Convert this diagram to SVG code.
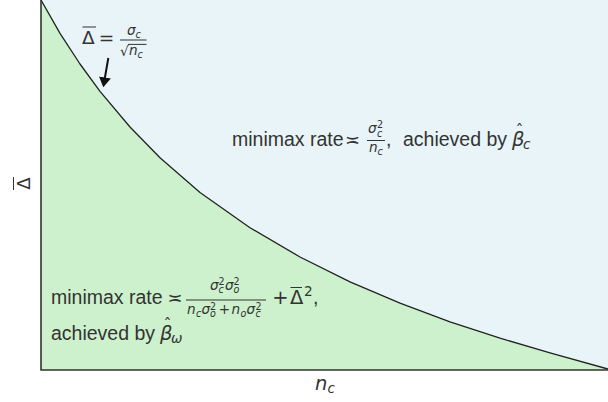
<svg xmlns="http://www.w3.org/2000/svg" width="608" height="402" viewBox="0 0 608 402">
<defs>
<style>
.t{font-family:"Liberation Sans",Arial,sans-serif;font-size:19.5px;fill:#333}
.m{font-family:"DejaVu Sans",sans-serif;fill:#333}
.i{font-style:italic}
.f{font-size:13.6px}
.s{font-size:9.6px}
.L{font-size:19.5px}
.rule{stroke:#333;stroke-width:1}
.axis{stroke:#333;stroke-width:1.6;fill:none}
</style>
<marker id="ah" markerUnits="userSpaceOnUse" markerWidth="12" markerHeight="14" refX="2.1" refY="6" orient="auto">
<path d="M0,0 L10,6 L0,12 Z" fill="#111"/>
</marker>
</defs>
<rect x="0" y="0" width="608" height="402" fill="#ffffff"/>
<g id="regions">
<rect id="upper-region" x="41" y="0" width="567" height="370" fill="#E8F4F7"/>
<path id="lower-region" d="M41,0 L60,33.4 L80,64 L100,91.3 L130,127 L160,157.8 L200,192.5 L250,227.7 L300,257 L350,281.9 L400,303.1 L450,321.8 L500,338.1 L550,352.9 L608,369 L608,370 L41,370 Z" fill="#CCF1CC"/>
</g>
<g id="connectors">
<polyline id="boundary" points="41,0 60,33.4 80,64 100,91.3 130,127 160,157.8 200,192.5 250,227.7 300,257 350,281.9 400,303.1 450,321.8 500,338.1 550,352.9 608,369" fill="none" stroke="#222" stroke-width="1.3" stroke-linejoin="round"/>
<line id="arrow" x1="108.3" y1="58" x2="104.6" y2="79.5" stroke="#111" stroke-width="2" marker-end="url(#ah)"/>
<polyline id="axes" class="axis" points="41,0 41,370 608,370"/>
</g>
<g id="label-delta-bar">
<text class="m" x="82" y="43.5" font-size="18.5">Δ</text>
<line class="rule" x1="82.5" y1="27" x2="96" y2="27" stroke-width="1.4"/>
<text class="m" x="106.5" y="43.5" font-size="18.5" text-anchor="middle">=</text>
<line class="rule" x1="120" y1="40" x2="146.5" y2="40"/>
<text class="m i f" x="127" y="35">σ</text>
<text class="m i s" x="135.5" y="38">c</text>
<text class="m f" x="120" y="56">√</text>
<line class="rule" x1="128" y1="44.4" x2="146.5" y2="44.4" stroke-width="0.9"/>
<text class="m i f" x="129" y="55">n</text>
<text class="m i s" x="137.5" y="57.5">c</text>
</g>
<g id="label-upper">
<text class="t" x="232" y="146">minimax rate</text>
<text class="m" x="352.5" y="146" font-size="18" text-anchor="middle">≍</text>
<text class="m i f" x="368" y="133">σ</text>
<text class="m s" x="377" y="128">2</text>
<text class="m i s" x="377" y="137">c</text>
<line class="rule" x1="367" y1="140.5" x2="385" y2="140.5"/>
<text class="m i f" x="369" y="152">n</text>
<text class="m i s" x="377.5" y="154.5">c</text>
<text class="t" x="386" y="146">,</text>
<text class="t" x="403" y="146">achieved by</text>
<text class="m i L" x="512" y="146">β</text>
<text class="m" x="519.5" y="136" font-size="16" text-anchor="middle">ˆ</text>
<text class="m i f" x="523" y="149">c</text>
</g>
<g id="label-lower">
<text class="t" x="51" y="304">minimax rate</text>
<text class="m" x="175" y="304" font-size="18" text-anchor="middle">≍</text>
<text class="m i f" x="210" y="290">σ</text>
<text class="m s" x="218.5" y="285">2</text>
<text class="m i s" x="218.5" y="292.5">c</text>
<text class="m i f" x="225" y="290">σ</text>
<text class="m s" x="233.5" y="285">2</text>
<text class="m i s" x="233.5" y="292.5">o</text>
<line class="rule" x1="186" y1="300" x2="266" y2="300"/>
<text class="m i f" x="187" y="314">n</text>
<text class="m i s" x="196" y="316.5">c</text>
<text class="m i f" x="201.5" y="314">σ</text>
<text class="m s" x="210" y="309.5">2</text>
<text class="m i s" x="210" y="317">o</text>
<text class="m f" x="224.5" y="314" text-anchor="middle">+</text>
<text class="m i f" x="231.5" y="314">n</text>
<text class="m i s" x="240.5" y="316.5">o</text>
<text class="m i f" x="246.5" y="314">σ</text>
<text class="m s" x="255.5" y="309.5">2</text>
<text class="m i s" x="255.5" y="317">c</text>
<text class="m L" x="280.5" y="304" text-anchor="middle">+</text>
<text class="m L" x="290" y="304">Δ</text>
<line class="rule" x1="290.5" y1="287.5" x2="302" y2="287.5" stroke-width="1.4"/>
<text class="m f" x="304" y="296">2</text>
<text class="t" x="313" y="304">,</text>
<text class="t" x="51" y="340">achieved by</text>
<text class="m i L" x="160" y="340">β</text>
<text class="m" x="167.5" y="330" font-size="16" text-anchor="middle">ˆ</text>
<text class="m i f" x="171" y="343">ω</text>
</g>
<g id="axis-labels">
<text class="m i L" x="315" y="390">n</text>
<text class="m i f" x="327.5" y="393">c</text>
<g transform="translate(30,183.5) rotate(-90)">
<text class="m" x="0" y="0" font-size="18" text-anchor="middle">Δ</text>
<line class="rule" x1="-6.5" y1="-16.5" x2="6.5" y2="-16.5" stroke-width="1.4"/>
</g>
</g>
</svg>
